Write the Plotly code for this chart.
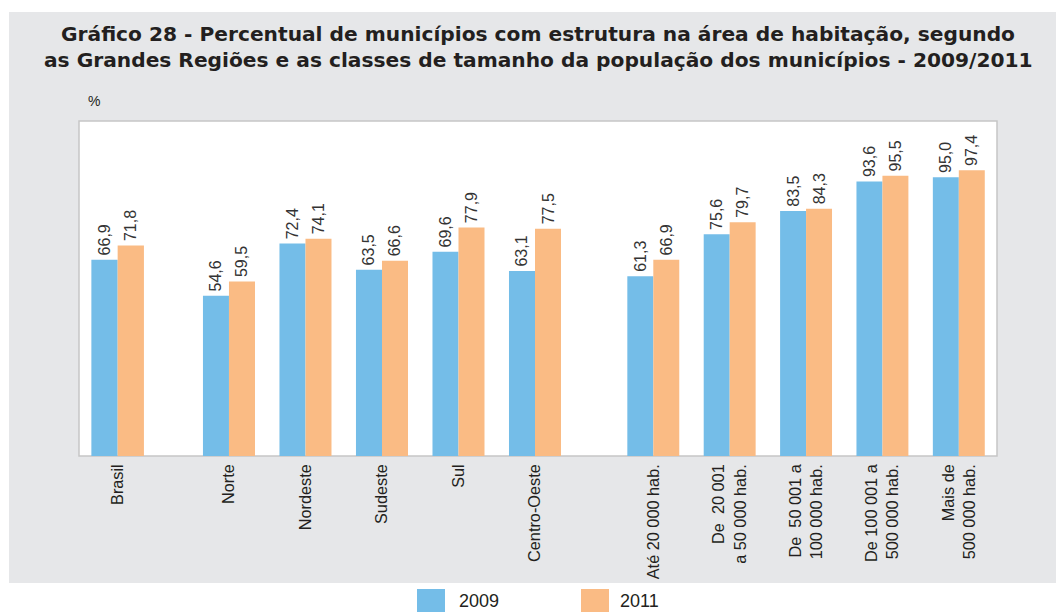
import plotly.graph_objects as go

# ---------------- data ----------------
brasil_cat = ["Brasil"]
brasil_2009 = [66.9]
brasil_2011 = [71.8]

region_cat = ["Norte", "Nordeste", "Sudeste", "Sul", "Centro-Oeste"]
region_2009 = [54.6, 72.4, 63.5, 69.6, 63.1]
region_2011 = [59.5, 74.1, 66.6, 77.9, 77.5]

size_cat = [
    "Até 20 000 hab.",
    "De  20 001<br>a 50 000 hab.",
    "De  50 001 a<br>100 000 hab.",
    "De 100 001 a<br>500 000 hab.",
    "Mais de<br>500 000 hab.",
]
size_2009 = [61.3, 75.6, 83.5, 93.6, 95.0]
size_2011 = [66.9, 79.7, 84.3, 95.5, 97.4]

series_names = ["2009", "2011"]
series_colors = ["#74BDE8", "#FABB84"]

title_lines = [
    "Gráfico 28 - Percentual de municípios com estrutura na área de habitação, segundo",
    "as Grandes Regiões e as classes de tamanho da população dos municípios - 2009/2011",
]

# ---------------- layout geometry (pixels) ----------------
W, H = 1056, 612
ML, MR, MT, MB = 79, 59, 121, 156
PW = W - ML - MR
PH = H - MT - MB


def px_x(x):
    return (x - ML) / PW


def px_y(y):
    return (H - MB - y) / PH


FONT = "Liberation Sans, Arial, sans-serif"
TITLE_FONT = "DejaVu Sans, Liberation Sans, sans-serif"
TXT = "#231F20"

fig = go.Figure()

groups = [
    ("x", brasil_cat, brasil_2009, brasil_2011),
    ("x2", region_cat, region_2009, region_2011),
    ("x3", size_cat, size_2009, size_2011),
]
for axis, cats, v09, v11 in groups:
    for name, vals, col in zip(series_names, [v09, v11], series_colors):
        fig.add_trace(go.Bar(
            x=cats, y=vals, name=name, xaxis=axis, yaxis="y",
            marker=dict(color=col, line=dict(width=0)),
            texttemplate="\u200a%{y:.1f}", textposition="outside", textangle=-90,
            textfont=dict(family=FONT, size=16, color="#333333"),
            constraintext="none", cliponaxis=False, showlegend=False,
            hoverinfo="skip",
        ))

xaxis_common = dict(
    tickangle=-90, tickfont=dict(family=FONT, size=16.3, color=TXT),
    showline=False, showgrid=False, zeroline=False, ticks="",
    anchor="y", ticklabelstandoff=4,
)

fig.update_layout(
    width=W, height=H,
    margin=dict(l=ML, r=MR, t=MT, b=MB, pad=0),
    paper_bgcolor="white", plot_bgcolor="rgba(0,0,0,0)",
    barmode="group", bargap=0.32, bargroupgap=0,
    separators=", ",
    font=dict(family=FONT, color=TXT),
    xaxis=dict(domain=[0.0, 0.0842], **xaxis_common),
    xaxis2=dict(domain=[0.1217, 0.5384], **xaxis_common),
    xaxis3=dict(domain=[0.584, 1.0], **xaxis_common),
    yaxis=dict(range=[0, 114.2], visible=False, showgrid=False, zeroline=False),
    showlegend=False,
)

shapes = [
    # gray panel
    dict(type="rect", xref="paper", yref="paper", layer="below",
         x0=px_x(9), x1=px_x(1056), y0=px_y(583), y1=px_y(12),
         fillcolor="#E6E7E9", line=dict(width=0)),
    # white plot area with border
    dict(type="rect", xref="paper", yref="paper", layer="below",
         x0=0, x1=1, y0=0, y1=1,
         fillcolor="white", line=dict(color="#C6C6C6", width=1.5)),
]

annotations = []
for line, yc in zip(title_lines, [33.5, 60]):
    annotations.append(dict(
        text="<b>" + line + "</b>", xref="paper", yref="paper",
        x=px_x(538), y=px_y(yc), xanchor="center", yanchor="middle",
        showarrow=False, font=dict(family=TITLE_FONT, size=20.2, color=TXT)))

annotations.append(dict(text="%", xref="paper", yref="paper", x=px_x(94), y=px_y(101),
                        xanchor="center", yanchor="middle", showarrow=False,
                        font=dict(family=FONT, size=14, color=TXT)))

# manual legend
legend_x = [(417, 445, 457), (581, 609, 618)]
for (bx0, bx1, tx), name, col in zip(legend_x, series_names, series_colors):
    shapes.append(dict(type="rect", xref="paper", yref="paper",
                       x0=px_x(bx0), x1=px_x(bx1), y0=px_y(612), y1=px_y(589),
                       fillcolor=col, line=dict(width=0)))
    annotations.append(dict(text=name, xref="paper", yref="paper",
                            x=px_x(tx), y=px_y(601), xanchor="left", yanchor="middle",
                            showarrow=False, font=dict(family=FONT, size=18, color=TXT)))

fig.update_layout(shapes=shapes, annotations=annotations)

fig.write_html("out.html", config={"displayModeBar": False},
               post_script="document.body.style.margin='0';")
